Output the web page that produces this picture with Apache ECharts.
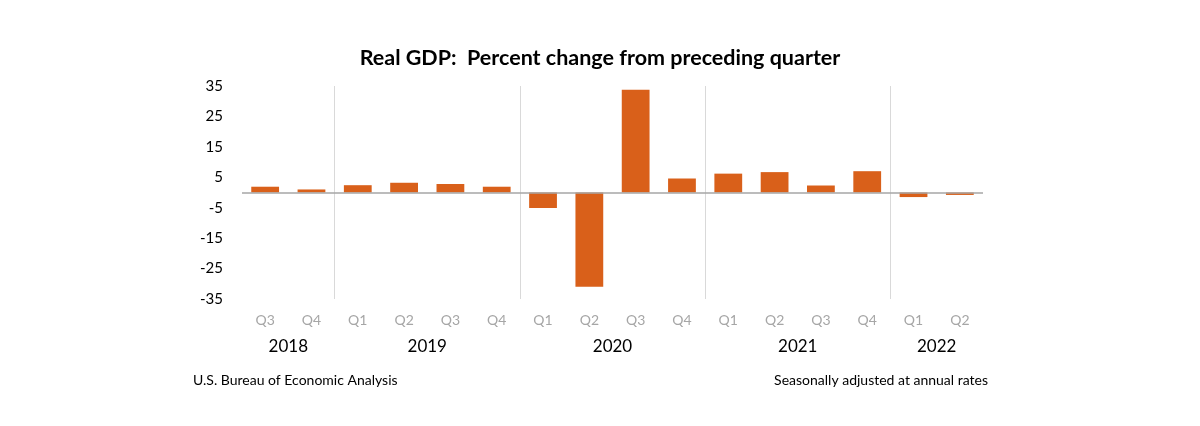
<!DOCTYPE html>
<html>
<head>
<meta charset="utf-8">
<script src="https://cdn.jsdelivr.net/npm/echarts@6/dist/echarts.min.js"></script>
<style>
  html, body { margin: 0; padding: 0; background: #fff; }
  #chart { width: 1200px; height: 426px; }
</style>
</head>
<body>
<div id="chart"></div>
<script>
// ---- data ----
const quarters = ['Q3','Q4','Q1','Q2','Q3','Q4','Q1','Q2','Q3','Q4','Q1','Q2','Q3','Q4','Q1','Q2'];
const gdpChange = [1.9, 1.0, 2.4, 3.2, 2.8, 1.9, -5.1, -31.0, 33.8, 4.6, 6.2, 6.7, 2.3, 7.0, -1.5, -0.8];
const years = ['2018', '2019', '2020', '2021', '2022'];
const quartersPerYear = [2, 4, 4, 4, 2];
const yTicks = { min: -35, max: 35, interval: 10 };

// year label positions (centre of each year's group, in category units)
const yearPos = {};
const boundaries = [];
let acc = 0;
years.forEach((y, i) => {
  yearPos[acc + quartersPerYear[i] / 2] = y;
  acc += quartersPerYear[i];
  if (i < years.length - 1) boundaries.push(acc);
});

const FONT = 'Lato';
const chart = echarts.init(document.getElementById('chart'), null, { renderer: 'canvas' });
chart.setOption({
  animation: false,
  backgroundColor: '#fff',
  textStyle: { fontFamily: FONT },
  title: {
    text: 'Real GDP:  Percent change from preceding quarter',
    left: 'center',
    top: 42,
    textStyle: { fontFamily: FONT, fontSize: 21.5, fontWeight: 'bold', color: '#000' }
  },
  grid: { left: 242, right: 217, top: 86, bottom: 127, containLabel: false },
  xAxis: [
    {
      type: 'category',
      data: quarters,
      position: 'bottom',
      axisLine: { show: false },
      axisTick: { show: false },
      axisLabel: { color: '#a6a6a6', fontSize: 14, margin: 14, fontFamily: FONT },
      splitLine: { show: false }
    },
    {
      type: 'value',
      min: 0,
      max: quarters.length,
      interval: 0.5,
      position: 'bottom',
      axisLine: { show: false },
      axisTick: { show: false },
      splitLine: { show: false },
      axisLabel: {
        show: true,
        margin: 39,
        fontSize: 17,
        color: '#000',
        fontFamily: FONT,
        showMinLabel: true,
        showMaxLabel: true,
        formatter: (v) => yearPos[v] || ''
      }
    }
  ],
  yAxis: {
    type: 'value',
    min: yTicks.min,
    max: yTicks.max,
    interval: yTicks.interval,
    axisLine: { show: false },
    axisTick: { show: false },
    splitLine: { show: false },
    axisLabel: { color: '#000', fontSize: 15, margin: 19, fontFamily: FONT }
  },
  series: [
    {
      type: 'line',
      xAxisIndex: 1,
      data: [],
      silent: true,
      markLine: {
        silent: true,
        symbol: 'none',
        label: { show: false },
        lineStyle: { color: '#d9d9d9', width: 1, type: 'solid' },
        data: boundaries.map(b => ({ xAxis: b }))
      }
    },
    {
      type: 'bar',
      data: gdpChange,
      xAxisIndex: 0,
      barCategoryGap: '40%',
      itemStyle: { color: '#D9601A' },
      markLine: {
        silent: true,
        symbol: 'none',
        label: { show: false },
        lineStyle: { color: '#a6a6a6', width: 1.5, type: 'solid' },
        data: [{ yAxis: 0 }]
      }
    }
  ],
  graphic: [
    {
      type: 'text', left: 193, top: 373,
      style: { text: 'U.S. Bureau of Economic Analysis', fontSize: 14, fill: '#000', fontFamily: FONT }
    },
    {
      type: 'text', right: 212, top: 373,
      style: { text: 'Seasonally adjusted at annual rates', fontSize: 14, fill: '#000', fontFamily: FONT }
    }
  ]
});
</script>
</body>
</html>
